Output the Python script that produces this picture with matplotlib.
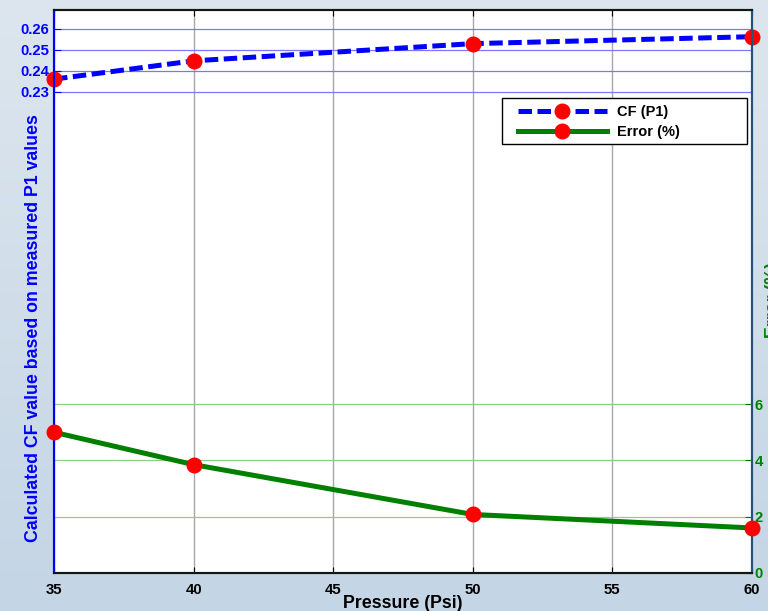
import numpy as np
import matplotlib
matplotlib.use("Agg")
from matplotlib import pyplot as plt
from matplotlib.colors import LinearSegmentedColormap
from matplotlib.patches import Rectangle

# data
pressure = [35, 40, 50, 60]
cf_p1 = [0.2361, 0.2448, 0.2530, 0.2563]
error_pct = [5.0, 3.85, 2.08, 1.6]

x_ticks = [35, 40, 45, 50, 55, 60]
cf_ticks = [0.23, 0.24, 0.25, 0.26]
err_ticks = [0, 2, 4, 6]

plt.rcParams['font.family'] = ['Liberation Sans', 'DejaVu Sans']
plt.rcParams['font.weight'] = 'bold'

fig = plt.figure(figsize=(7.68, 6.11), dpi=100)

# slide-like background behind everything
bg = fig.add_axes([0, 0, 1, 1], zorder=-10)
grad = np.linspace(0, 1, 256).reshape(-1, 1)
cmap_bg = LinearSegmentedColormap.from_list("bg", ["#dde6ee", "#c4d5e5"])
bg.imshow(grad, aspect='auto', cmap=cmap_bg, extent=[0, 1, 0, 1])
bg.axis('off')

ax = fig.add_axes([0.0703, 0.0622, 0.9087, 0.9214])
ax2 = ax.twinx()

# left axis: CF
ax.set_xlim(35, 60)
ax.set_ylim(0.001, 0.269)
ax.set_xticks(x_ticks)
ax.set_yticks(cf_ticks)
ax.set_yticklabels([f"{v:.2f}" for v in cf_ticks])
ax.tick_params(axis='y', colors='#0000ff', direction='in', length=5, labelsize=10.7, pad=3.5)
ax.tick_params(axis='x', colors='black', direction='in', length=4, labelsize=10.7, top=True, pad=7)
for lbl in ax.get_xticklabels() + ax.get_yticklabels():
    lbl.set_fontweight('bold')

ax.grid(axis='y', color='#7878ff', linewidth=0.9)
ax.grid(axis='x', color='#a8a8a8', linewidth=1.0)
ax.set_axisbelow(True)

# right axis: error
ax2.set_ylim(0, 20)
ax2.set_yticks(err_ticks)
ax2.tick_params(axis='y', colors='#008000', direction='in', length=5, labelsize=10.7, pad=2)
for lbl in ax2.get_yticklabels():
    lbl.set_fontweight('bold')
ax2.grid(axis='y', color='#8fcc8f', linewidth=0.9)

for a in (ax, ax2):
    a.spines['left'].set_color('#0000ff')
    a.spines['left'].set_linewidth(1.5)
    a.spines['bottom'].set_color('#101810')
    a.spines['bottom'].set_linewidth(1.5)
    a.spines['top'].set_color('#101810')
    a.spines['top'].set_linewidth(1.5)
    a.spines['right'].set_color('#23527c')
    a.spines['right'].set_linewidth(1.5)

l1, = ax.plot(pressure, cf_p1, color='#0000ff', lw=3.6,
              dashes=(2.7, 1.1), marker='o', ms=10.5, mfc='#ff0000', mec='#ff0000',
              label='CF (P1)', clip_on=False, zorder=5)
l2, = ax2.plot(pressure, error_pct, color='#008000', lw=3.6,
               marker='o', ms=10.5, mfc='#ff0000', mec='#ff0000',
               label='Error (%)', clip_on=False, zorder=5)

ax.set_xlabel('Pressure (Psi)', fontsize=12.8, fontweight='bold', labelpad=-1)
ax.set_ylabel('Calculated CF value based on measured P1 values', fontsize=12.8,
              fontweight='bold', color='#0000ff')
ax.yaxis.set_label_coords(-0.017, 0.435)
ax2.set_ylabel('Error (%)', fontsize=12.8, fontweight='bold', color='#008000')
ax2.yaxis.set_label_coords(1.019, 0.485)

# legend box drawn separately so the entries can sit inset from its left edge
ax2.add_patch(Rectangle((0.6418, 0.762), 0.351, 0.0817, transform=ax2.transAxes,
                        facecolor='white', edgecolor='black', linewidth=1.0, zorder=4.5))
leg = ax2.legend(handles=[l1, l2], loc='upper left',
                 bbox_to_anchor=(0.6563, 0.842), borderaxespad=0,
                 handlelength=6.1, numpoints=1, frameon=False,
                 prop={'weight': 'bold', 'size': 10.5},
                 borderpad=0.4, labelspacing=0.45, handletextpad=0.68)

fig.savefig('out.png', dpi=100)
